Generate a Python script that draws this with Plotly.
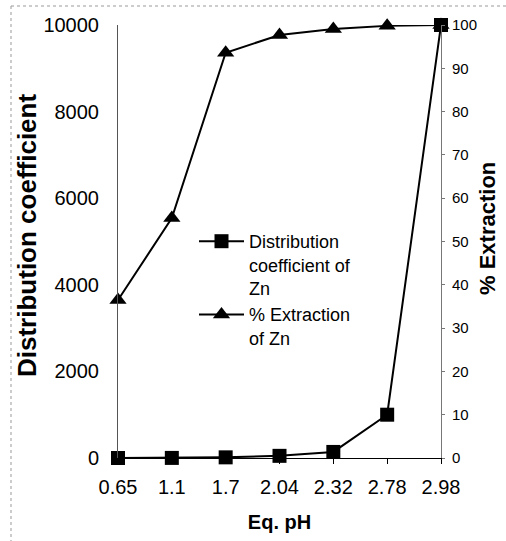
import plotly.graph_objects as go

ph_labels = ["0.65", "1.1", "1.7", "2.04", "2.32", "2.78", "2.98"]
dist_coeff = [0, 2, 15, 50, 140, 1000, 10000]
extraction = [36.5, 55.4, 93.6, 97.7, 99.1, 99.8, 100]
left_ticks = [0, 2000, 4000, 6000, 8000, 10000]
right_ticks = [0, 10, 20, 30, 40, 50, 60, 70, 80, 90, 100]

W, H = 506, 541
ML, MR, MT, MB = 118, 65, 25, 83
PW, PH = W - ML - MR, H - MT - MB

FONT = "Arial, Liberation Sans, sans-serif"

fig = go.Figure()
fig.add_trace(go.Scatter(
    x=ph_labels, y=extraction, yaxis="y2", name="% Extraction<br>of Zn",
    mode="lines+markers", line=dict(color="black", width=2),
    marker=dict(symbol="triangle-up", size=15, color="black"),
    cliponaxis=False, legendrank=2,
))
fig.add_trace(go.Scatter(
    x=ph_labels, y=dist_coeff, yaxis="y", name="Distribution<br>coefficient of<br>Zn",
    mode="lines+markers", line=dict(color="black", width=2),
    marker=dict(symbol="square", size=14, color="black"),
    cliponaxis=False, legendrank=1,
))

def px_x(p):
    return (p - ML) / PW

def px_y(p):
    return (H - MB - p) / PH

fig.update_layout(
    width=W, height=H,
    margin=dict(l=ML, r=MR, t=MT, b=MB, autoexpand=False),
    paper_bgcolor="white", plot_bgcolor="white",
    font=dict(family=FONT, color="black"),
    xaxis=dict(
        type="category", range=[0, 6], showgrid=False, zeroline=False,
        showline=True, linecolor="black", linewidth=1,
        ticks="outside", ticklen=5, tickcolor="black",
        tickfont=dict(size=20), ticklabelstandoff=6, automargin=False,
        title=dict(text="<b>Eq. pH</b>", font=dict(size=20), standoff=17),
    ),
    yaxis=dict(
        range=[0, 10000], tickvals=left_ticks, ticktext=[str(v) for v in left_ticks],
        showgrid=False, zeroline=False, showline=True, linecolor="#555", linewidth=1,
        ticks="", tickfont=dict(size=20), ticklabelstandoff=14, automargin=False,
    ),
    yaxis2=dict(
        range=[0, 100], tickvals=right_ticks, overlaying="y", side="right",
        showgrid=False, zeroline=False, showline=True, linecolor="#777", linewidth=1,
        ticks="outside", ticklen=3, tickcolor="#777", tickfont=dict(size=15),
        ticklabelstandoff=4, automargin=False,
    ),
    annotations=[
        dict(text="<b>Distribution coefficient</b>", xref="paper", yref="paper",
             x=px_x(27), y=px_y(236), xanchor="center", yanchor="middle",
             textangle=-90, showarrow=False, font=dict(size=26)),
        dict(text="<b>% Extraction</b>", xref="paper", yref="paper",
             x=px_x(487), y=px_y(229), xanchor="center", yanchor="middle",
             textangle=-90, showarrow=False, font=dict(size=22)),
    ],
    legend=dict(
        x=px_x(194), y=px_y(223), xanchor="left", yanchor="top",
        bgcolor="rgba(0,0,0,0)", font=dict(size=18), valign="top",
        itemwidth=45, tracegroupgap=0,
    ),
    showlegend=True,
    shapes=[
        dict(type="line", xref="paper", yref="paper", x0=px_x(11), x1=px_x(11),
             y0=px_y(6), y1=px_y(541), line=dict(color="#999", width=1, dash="dot")),
        dict(type="line", xref="paper", yref="paper", x0=px_x(11), x1=px_x(506),
             y0=px_y(6), y1=px_y(6), line=dict(color="#999", width=1, dash="dot")),
    ],
)

fig.write_html("out.html", config={"displayModeBar": False},
               post_script="document.body.style.margin='0';")
